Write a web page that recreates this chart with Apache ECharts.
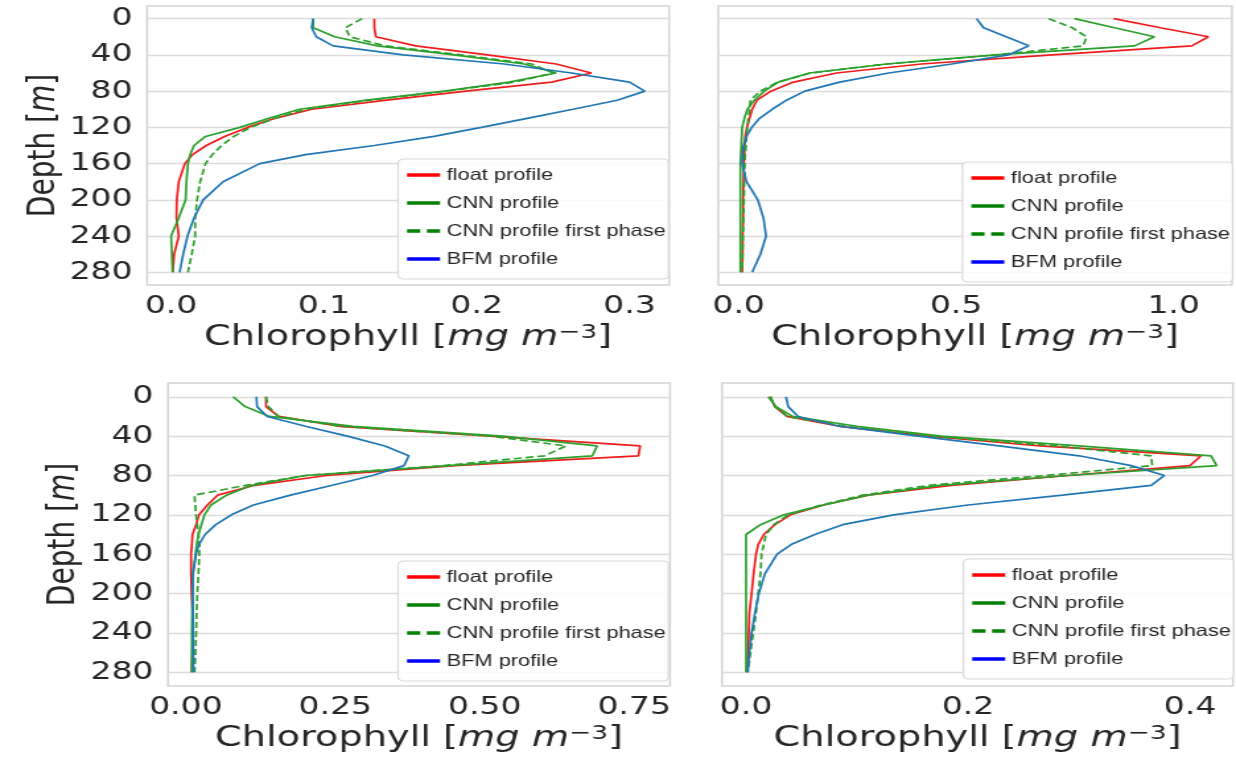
<!DOCTYPE html>
<html>
<head>
<meta charset="utf-8">
<script src="https://cdn.jsdelivr.net/npm/echarts@6.0.0/dist/echarts.min.js"></script>
<style>
  html, body { margin: 0; padding: 0; background: #fff; }
  #wrap { width: 1236px; height: 766px; overflow: hidden; }
  /* the figure is horizontally stretched, so draw narrow and scale */
  #chart { width: 936px; height: 766px; transform: scaleX(1.3205); transform-origin: 0 0; }
</style>
</head>
<body>
<div id="wrap"><div id="chart"></div></div>
<script>
// depth levels [m], shared by every profile
var depth = [0, 10, 20, 30, 40, 50, 60, 70, 80, 90, 100, 110, 120, 130, 140, 150, 160, 180, 200, 220, 240, 260, 280];
var depthTicks = [0, 40, 80, 120, 160, 200, 240, 280];
var names = ['float profile', 'CNN profile', 'CNN profile first phase', 'BFM profile'];

// top left
var tlFloat = [0.133, 0.133, 0.134, 0.160, 0.207, 0.252, 0.275, 0.249, 0.193, 0.141, 0.092, 0.068, 0.050, 0.035, 0.023, 0.014, 0.009, 0.005, 0.0037, 0.0035, 0.005, 0.002, 0.001];
var tlCnn = [0.093, 0.093, 0.107, 0.135, 0.185, 0.231, 0.252, 0.221, 0.179, 0.128, 0.084, 0.064, 0.045, 0.0225, 0.015, 0.0125, 0.011, 0.010, 0.0095, 0.005, 0.000, 0.0005, 0.001];
var tlFirst = [0.125, 0.114, 0.117, 0.140, 0.190, 0.236, 0.250, 0.225, 0.180, 0.130, 0.088, 0.068, 0.052, 0.041, 0.033, 0.027, 0.0225, 0.019, 0.017, 0.0157, 0.0157, 0.0135, 0.011];
var tlBfm = [0.093, 0.092, 0.095, 0.106, 0.152, 0.218, 0.262, 0.300, 0.310, 0.292, 0.263, 0.233, 0.203, 0.172, 0.133, 0.088, 0.058, 0.034, 0.021, 0.015, 0.0107, 0.0079, 0.0056];

// top right
var trFloat = [0.862, 0.970, 1.080, 1.042, 0.720, 0.420, 0.225, 0.126, 0.074, 0.042, 0.031, 0.025, 0.019, 0.015, 0.014, 0.013, 0.012, 0.011, 0.010, 0.010, 0.009, 0.009, 0.008];
var trCnn = [0.772, 0.864, 0.956, 0.910, 0.590, 0.340, 0.163, 0.091, 0.059, 0.036, 0.020, 0.013, 0.008, 0.007, 0.006, 0.005, 0.004, 0.004, 0.004, 0.004, 0.004, 0.004, 0.004];
var trFirst = [0.713, 0.767, 0.800, 0.792, 0.590, 0.340, 0.165, 0.090, 0.050, 0.027, 0.025, 0.022, 0.020, 0.018, 0.017, 0.015, 0.014, 0.013, 0.012, 0.011, 0.010, 0.009, 0.008];
var trBfm = [0.547, 0.563, 0.615, 0.667, 0.620, 0.490, 0.345, 0.232, 0.152, 0.110, 0.077, 0.048, 0.030, 0.018, 0.011, 0.009, 0.008, 0.018, 0.044, 0.057, 0.063, 0.050, 0.031];

// bottom left
var blFloat = [0.134, 0.134, 0.155, 0.257, 0.510, 0.760, 0.757, 0.450, 0.235, 0.115, 0.053, 0.036, 0.022, 0.017, 0.011, 0.010, 0.0086, 0.0086, 0.0095, 0.0115, 0.0115, 0.011, 0.0098];
var blCnn = [0.079, 0.099, 0.140, 0.280, 0.530, 0.688, 0.680, 0.440, 0.200, 0.110, 0.068, 0.042, 0.031, 0.026, 0.021, 0.018, 0.016, 0.012, 0.011, 0.0105, 0.010, 0.010, 0.0098];
var blFirst = [0.134, 0.138, 0.155, 0.257, 0.510, 0.636, 0.600, 0.430, 0.200, 0.100, 0.0144, 0.0155, 0.017, 0.019, 0.021, 0.023, 0.0225, 0.021, 0.019, 0.018, 0.017, 0.016, 0.0144];
var blBfm = [0.118, 0.119, 0.136, 0.200, 0.270, 0.333, 0.373, 0.365, 0.312, 0.245, 0.175, 0.113, 0.076, 0.050, 0.032, 0.022, 0.017, 0.0115, 0.0115, 0.012, 0.012, 0.0125, 0.0126];

// bottom right
var brFloat = [0.022, 0.026, 0.037, 0.084, 0.165, 0.265, 0.410, 0.400, 0.290, 0.185, 0.110, 0.070, 0.040, 0.026, 0.016, 0.011, 0.009, 0.0068, 0.005, 0.003, 0.0025, 0.0018, 0.001];
var brCnn = [0.020, 0.027, 0.042, 0.100, 0.176, 0.300, 0.419, 0.424, 0.290, 0.175, 0.110, 0.070, 0.034, 0.013, 0.000, 0.000, 0.000, 0.000, 0.000, 0.000, 0.000, 0.000, 0.000];
var brFirst = [0.022, 0.026, 0.037, 0.090, 0.165, 0.280, 0.365, 0.366, 0.270, 0.165, 0.105, 0.068, 0.038, 0.025, 0.018, 0.016, 0.014, 0.013, 0.011, 0.009, 0.0065, 0.004, 0.0016];
var brBfm = [0.036, 0.038, 0.047, 0.084, 0.155, 0.228, 0.300, 0.347, 0.377, 0.365, 0.285, 0.200, 0.133, 0.087, 0.062, 0.041, 0.028, 0.017, 0.0115, 0.008, 0.005, 0.003, 0.0016];

var tlTicks = [0, 0.1, 0.2, 0.3];
var trTicks = [0, 0.5, 1.0];
var blTicks = [0, 0.25, 0.5, 0.75];
var brTicks = [0, 0.2, 0.4];

var panels = [
  { grid: { left: 111.4, top: 6, width: 395.4, height: 279 }, min: -0.0157, max: 0.326, ticks: tlTicks, dec: 1, yLabels: true, legend: { left: 301.5, top: 159 }, data: [tlFloat, tlCnn, tlFirst, tlBfm] },
  { grid: { left: 543.9, top: 6, width: 389, height: 279 }, min: -0.047, max: 1.134, ticks: trTicks, dec: 1, yLabels: false, legend: { left: 728.8, top: 162 }, data: [trFloat, trCnn, trFirst, trBfm] },
  { grid: { left: 127.2, top: 383, width: 380.2, height: 303 }, min: -0.030, max: 0.81, ticks: blTicks, dec: 2, yLabels: true, legend: { left: 301.5, top: 561 }, data: [blFloat, blCnn, blFirst, blBfm] },
  { grid: { left: 546.8, top: 383, width: 386.9, height: 303 }, min: -0.0216, max: 0.4387, ticks: brTicks, dec: 1, yLabels: false, legend: { left: 729.5, top: 559 }, data: [brFloat, brCnn, brFirst, brBfm] }
];

var lineColors = ['#f01c1c', '#2ca02c', '#2ca02c', '#1f77b4'];
var handleColors = ['#ff0000', '#008000', '#008000', '#0000ff'];
var textColor = '#262626';
var font = 'DejaVu Sans';

function pairs(vals) {
  return vals.map(function(v, i) { return [v, depth[i]]; });
}

var grids = [], xAxes = [], yAxes = [], series = [], legends = [];

panels.forEach(function(p, k) {
  grids.push({
    left: p.grid.left, top: p.grid.top, width: p.grid.width, height: p.grid.height,
    show: true, borderColor: '#d4d4d4', borderWidth: 1.5, backgroundColor: '#fff'
  });
  xAxes.push({
    type: 'value', gridIndex: k, min: p.min, max: p.max,
    axisLine: { show: false },
    axisTick: { show: false, customValues: p.ticks },
    splitLine: { show: false },
    axisLabel: {
      customValues: p.ticks, margin: 9, color: textColor, fontFamily: font, fontSize: 25,
      formatter: (function(dec) { return function(v) { return v.toFixed(dec); }; })(p.dec)
    },
    name: 'Chlorophyll [{i|mg m}{s|\u22123}]',
    nameLocation: 'middle', nameGap: 38,
    nameTextStyle: {
      color: textColor, fontFamily: font, fontSize: 29,
      rich: {
        i: { fontStyle: 'italic', fontFamily: font, fontSize: 29, color: textColor },
        s: { fontFamily: font, fontSize: 20, color: textColor, verticalAlign: 'top' }
      }
    }
  });
  yAxes.push({
    type: 'value', gridIndex: k, inverse: true, min: -14, max: 294,
    axisLine: { show: false },
    axisTick: { show: false, customValues: depthTicks },
    splitLine: { show: true, lineStyle: { color: '#dcdcdc', width: 1.3 } },
    axisLabel: { show: p.yLabels, customValues: depthTicks, margin: 11, color: textColor, fontFamily: font, fontSize: 25 },
    name: p.yLabels ? 'Depth [{i|m}]' : '',
    nameLocation: 'middle', nameGap: 64,
    nameTextStyle: {
      color: textColor, fontFamily: font, fontSize: 28,
      rich: { i: { fontStyle: 'italic', fontFamily: font, fontSize: 28, color: textColor } }
    }
  });
  p.data.forEach(function(vals, j) {
    series.push({
      type: 'line', name: names[j], xAxisIndex: k, yAxisIndex: k,
      symbol: 'none', silent: true,
      lineStyle: { color: lineColors[j], width: 1.7, type: j === 2 ? [6, 3] : 'solid' },
      itemStyle: { color: lineColors[j] },
      data: pairs(vals)
    });
  });
  legends.push({
    orient: 'vertical', left: p.legend.left, top: p.legend.top,
    selectedMode: false,
    backgroundColor: 'rgba(255,255,255,0.85)', borderColor: '#dadada', borderWidth: 1.2, borderRadius: 4,
    padding: [6, 2, 10, 5],
    itemWidth: 25, itemHeight: 14, itemGap: 8,
    textStyle: {
      color: textColor, fontSize: 16.5, lineHeight: 20,
      fontFamily: "'Liberation Sans', Arial, sans-serif"
    },
    data: names.map(function(n, j) {
      return {
        name: n,
        // no marker on the handle, line only
        itemStyle: { color: 'rgba(0,0,0,0)', opacity: 0, borderWidth: 0 },
        lineStyle: { color: handleColors[j], width: 3.5, opacity: 1, type: j === 2 ? [10, 5] : 'solid' }
      };
    })
  });
});

var chart = echarts.init(document.getElementById('chart'));
chart.setOption({
  animation: false,
  backgroundColor: '#fff',
  grid: grids,
  xAxis: xAxes,
  yAxis: yAxes,
  legend: legends,
  series: series
});
</script>
</body>
</html>
